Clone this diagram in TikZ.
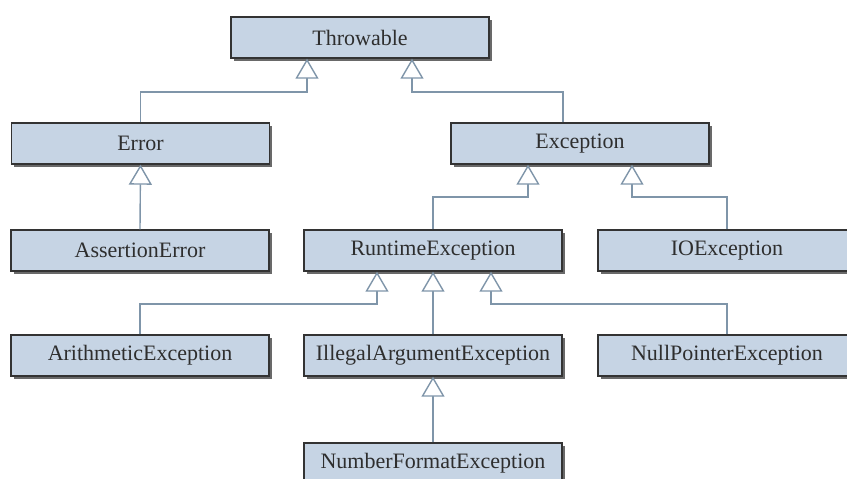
\documentclass[tikz,border=0pt]{standalone}
\usepackage{fontspec}
\setmainfont{Liberation Serif}
\usetikzlibrary{arrows.meta,shadows}
\definecolor{boxfill}{HTML}{C6D4E4}
\definecolor{boxline}{HTML}{333333}
\definecolor{conn}{HTML}{7F95A9}
\definecolor{txt}{HTML}{2E2E2E}
\begin{document}
\begin{tikzpicture}[x=1pt,y=-1pt,
  cls/.style={draw=boxline, line width=1.4pt, fill=boxfill,
    minimum width=258pt, minimum height=41pt, inner sep=0pt,
    text=txt, font=\fontsize{22}{26}\selectfont,
    drop shadow={shadow xshift=2.5pt, shadow yshift=-2.5pt, fill=black!65, opacity=0.9}},
  inh/.style={draw=conn, line width=1.4pt,
    -{Triangle[open, length=20pt, width=23pt, line width=1.4pt, fill=white]}}]
\useasboundingbox (0,0) rectangle (847,479);
\node[cls] (throwable) at (360,37.5) {Throwable};
\node[cls] (error) at (140.5,143.5) {Error};
\node[cls] (exception) at (580,143.5) {Exception};
\node[cls] (assert) at (140,250.5) {AssertionError};
\node[cls] (runtime) at (433,250.5) {RuntimeException};
\node[cls] (ioexc) at (727,250.5) {IOException};
\node[cls] (arith) at (140,355.5) {ArithmeticException};
\node[cls] (illegal) at (433,355.5) {IllegalArgumentException};
\node[cls] (nullp) at (727,355.5) {NullPointerException};
\node[cls] (numfmt) at (433,463.5) {NumberFormatException};
% tip coordinates
\coordinate (t1) at ([xshift=-53pt]throwable.south);
\coordinate (t2) at ([xshift=52pt]throwable.south);
\coordinate (e1) at ([xshift=-52pt]exception.south);
\coordinate (e2) at ([xshift=52pt]exception.south);
\coordinate (r1) at ([xshift=-56pt]runtime.south);
\coordinate (r3) at ([xshift=58pt]runtime.south);
\coordinate (h1) at (0,92);
\coordinate (h2) at (0,197);
\coordinate (h3) at (0,304);
% connectors
\draw[inh] (error.north) -- (error.north |- h1) -| (t1);
\draw[inh] (exception.north -| 563,0) -- (563,92) -| (t2);
\draw[inh] (assert.north) -- (error.south);
\draw[inh] (runtime.north) -- (runtime.north |- h2) -| (e1);
\draw[inh] (ioexc.north) -- (ioexc.north |- h2) -| (e2);
\draw[inh] (arith.north) -- (arith.north |- h3) -| (r1);
\draw[inh] (illegal.north) -- (runtime.south);
\draw[inh] (nullp.north) -- (nullp.north |- h3) -| (r3);
\draw[inh] (numfmt.north) -- (illegal.south);
\end{tikzpicture}
\end{document}
